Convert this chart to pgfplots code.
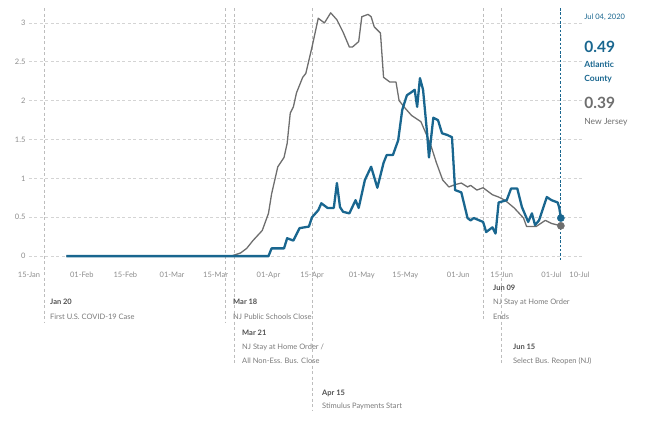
\documentclass[border=0pt]{standalone}
\usepackage{pgfplots}
\pgfplotsset{compat=1.18}
\usepackage{fontspec}
\setmainfont{Lato}

\definecolor{acblue}{HTML}{19668F}
\definecolor{njgray}{HTML}{6E6E6E}
\definecolor{gridgray}{HTML}{D4D4D4}
\definecolor{labgray}{HTML}{8C8C8C}
\definecolor{evdark}{HTML}{505050}
\definecolor{evtext}{HTML}{7A7A7A}
\definecolor{evline}{HTML}{BDBDBD}

\newcommand{\sm}{\fontsize{7.5}{9}\selectfont}

\begin{document}
\begin{tikzpicture}
\begin{axis}[
    scale only axis,
    width=553.6pt, height=260pt,
    xmin=0, xmax=178, ymin=-0.155, ymax=3.19,
    axis line style={draw=none},
    major tick length=0pt,
    ytick={0,0.5,1,1.5,2,2.5,3},
    yticklabels={0,0.5,1,1.5,2,2.5,3},
    ymajorgrids,
    grid style={gridgray, dash pattern=on 3pt off 2.5pt, line width=0.7pt},
    xtick={0,17,31,46,60,77,91,107,121,138,152,168,177},
    xticklabels={15-Jan,01-Feb,15-Feb,01-Mar,15-Mar,01-Apr,15-Apr,01-May,15-May,01-Jun,15-Jun,01-Jul,10-Jul},
    tick label style={font=\sm, text=labgray},
    /pgf/number format/assume math mode=true,
    clip=false,
]
% page frame
\path (axis cs:-9.32,3.295) rectangle (axis cs:198.7,-2.2);

% event lines
\begin{scope}[evline, dash pattern=on 3pt off 2.5pt, line width=0.7pt]
\draw (axis cs:5,3.19) -- (axis cs:5,-0.85);
\draw (axis cs:63,3.19) -- (axis cs:63,-0.85);
\draw (axis cs:66,3.19) -- (axis cs:66,-1.40);
\draw (axis cs:91,3.19) -- (axis cs:91,-1.98);
\draw (axis cs:146,3.19) -- (axis cs:146,-0.82);
\draw (axis cs:152,3.19) -- (axis cs:152,-1.40);
\end{scope}
\draw[acblue, dash pattern=on 2.5pt off 1.8pt, line width=1.1pt] (axis cs:171,3.19) -- (axis cs:171,-0.07);

% New Jersey
\addplot[njgray, line width=1.3pt, line join=round] coordinates {
(12,0) (65,0) (68,0.04) (70,0.1) (72,0.2) (75,0.33) (77,0.55) (78,0.8)
(80,1.15) (82,1.27) (83,1.45) (84,1.84) (85,1.92) (86,2.1) (88,2.3) (89,2.35)
(91,2.69) (93,3.06) (95,3.0) (97,3.13) (99,3.04) (101,2.88) (103,2.69) (104,2.69)
(106,2.76) (107,3.08) (109,3.11) (110,3.08) (111,2.95) (113,2.87) (114,2.3) (116,2.24)
(118,2.24) (119,2.0) (121,1.9) (123,1.81) (126,1.73) (129,1.45) (131,1.2) (133,0.98)
(135,0.89) (137,0.92) (139,0.94) (141,0.89) (142,0.91) (144,0.85) (146,0.88) (149,0.79)
(151,0.76) (153,0.72) (156,0.62) (159,0.49) (160,0.38) (163,0.38) (166,0.46) (168,0.42)
(171,0.39)
};

% Atlantic County
\addplot[acblue, line width=2.3pt, line join=round] coordinates {
(12,0) (77,0) (78,0.1) (82,0.1) (83,0.23) (85,0.2) (87,0.36) (90,0.38)
(91,0.5) (93,0.59) (94,0.68) (96,0.62) (98,0.62) (99,0.94) (100,0.63) (101,0.57)
(103,0.55) (105,0.72) (106,0.62) (108,0.98) (110,1.15) (112,0.88) (114,1.2) (115,1.3)
(117,1.3) (118.7,1.49) (120,1.88) (121.5,2.07) (123,2.11) (124,2.14) (124.8,1.92) (125.7,2.29)
(126.7,2.14) (128,1.58) (128.6,1.27) (130,1.78) (131.5,1.75) (132.8,1.58) (134.4,1.56) (136,1.53)
(137,0.85) (139,0.82) (141,0.49) (142,0.46) (143,0.49) (146,0.44) (147,0.31) (149,0.37)
(150,0.29) (151,0.69) (153.6,0.72) (155,0.87) (157,0.87) (158.5,0.63) (160.5,0.44) (161.7,0.55)
(162.7,0.4) (164,0.46) (166.5,0.76) (168,0.72) (170,0.69) (170.5,0.62) (171,0.49)
};

% end markers
\addplot[only marks, mark=*, mark size=3.6pt, njgray] coordinates {(171,0.39)};
\addplot[only marks, mark=*, mark size=3.6pt, acblue] coordinates {(171,0.49)};

% right labels
\node[anchor=west, inner sep=0pt, font=\fontsize{7.5}{9}\selectfont, text=acblue] at (axis cs:178.5,3.076) {Jul 04, 2020};
\node[anchor=west, inner sep=0pt, font=\fontsize{15.5}{18}\selectfont\bfseries, text=acblue] at (axis cs:178.5,2.69) {0.49};
\node[anchor=west, inner sep=0pt, font=\fontsize{8.5}{10}\selectfont\bfseries, text=acblue] at (axis cs:178.5,2.47) {Atlantic};
\node[anchor=west, inner sep=0pt, font=\fontsize{8.5}{10}\selectfont\bfseries, text=acblue] at (axis cs:178.5,2.28) {County};
\node[anchor=west, inner sep=0pt, font=\fontsize{15.5}{18}\selectfont\bfseries, text=njgray] at (axis cs:178.5,1.97) {0.39};
\node[anchor=west, inner sep=0pt, font=\fontsize{8.5}{10}\selectfont, text=njgray] at (axis cs:178.5,1.72) {New Jersey};

% event annotations
\begin{scope}[every node/.style={anchor=west, inner sep=0pt, font=\sm}]
\node[text=evdark, font=\sm\bfseries] at (axis cs:6.75,-0.592) {Jan 20};
\node[text=evtext] at (axis cs:6.75,-0.785) {First U.S. COVID-19 Case};
\node[text=evdark, font=\sm\bfseries] at (axis cs:65.6,-0.592) {Mar 18};
\node[text=evtext] at (axis cs:65.6,-0.785) {NJ Public Schools Close};
\node[text=evdark, font=\sm\bfseries] at (axis cs:68.5,-0.99) {Mar 21};
\node[text=evtext] at (axis cs:68.5,-1.17) {NJ Stay at Home Order /};
\node[text=evtext] at (axis cs:68.5,-1.35) {All Non-Ess. Bus. Close};
\node[text=evdark, font=\sm\bfseries] at (axis cs:94.2,-1.763) {Apr 15};
\node[text=evtext] at (axis cs:94.2,-1.93) {Stimulus Payments Start};
\node[text=evdark, font=\sm\bfseries] at (axis cs:149.2,-0.41) {Jun 09};
\node[text=evtext] at (axis cs:149.2,-0.592) {NJ Stay at Home Order};
\node[text=evtext] at (axis cs:149.2,-0.785) {Ends};
\node[text=evdark, font=\sm\bfseries] at (axis cs:155.6,-1.17) {Jun 15};
\node[text=evtext] at (axis cs:155.6,-1.35) {Select Bus. Reopen (NJ)};
\end{scope}
\end{axis}
\end{tikzpicture}
\end{document}
